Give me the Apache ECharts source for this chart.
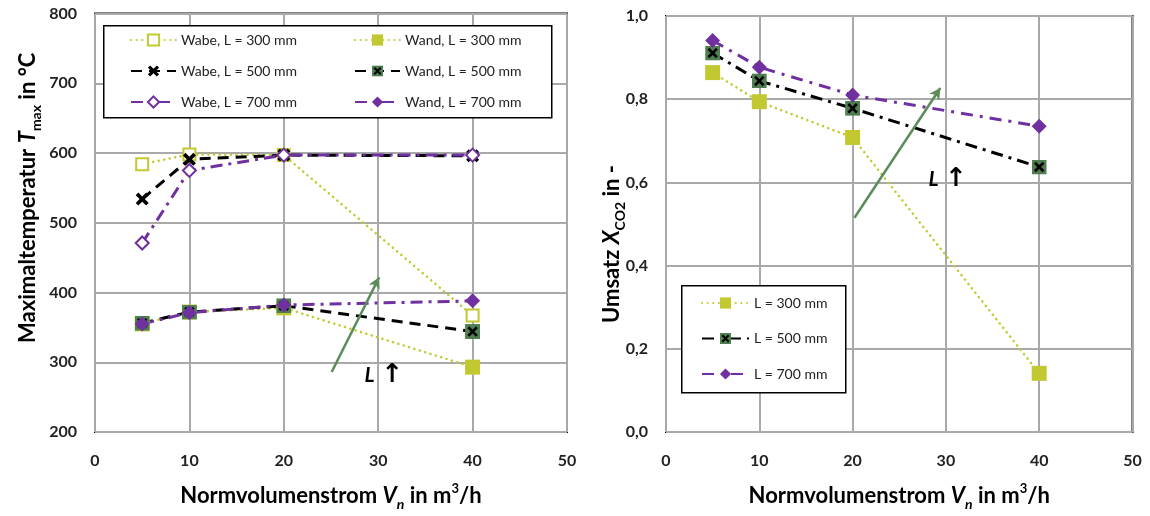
<!DOCTYPE html>
<html><head><meta charset="utf-8">
<script src="https://cdn.jsdelivr.net/npm/echarts@6/dist/echarts.min.js"></script>
<style>html,body{margin:0;padding:0;background:#fff}#c{width:1150px;height:516px}</style>
</head><body><div id="c"></div>
<script>
// ---- data ----
const xTicks = [0, 10, 20, 30, 40, 50];
const volumenstrom = [5, 10, 20, 40];
const wabe300 = [584, 598, 597, 367];
const wabe500 = [534, 591, 597, 596];
const wabe700 = [471, 575, 597, 597];
const wand300 = [355, 372, 378, 293];
const wand500 = [356, 372, 381, 344];
const wand700 = [355, 371, 382, 388];
const umsatz300 = [0.864, 0.794, 0.708, 0.141];
const umsatz500 = [0.911, 0.844, 0.778, 0.637];
const umsatz700 = [0.941, 0.877, 0.810, 0.735];
const leftNames = ['Wabe, L = 300 mm', 'Wabe, L = 500 mm', 'Wabe, L = 700 mm', 'Wand, L = 300 mm', 'Wand, L = 500 mm', 'Wand, L = 700 mm'];
const rightNames = ['L = 300 mm', 'L = 500 mm', 'L = 700 mm'];
const arrowLeft = [[25.07, 286], [30.1, 421.7]];
const arrowRight = [[20.2, 0.515], [29.4, 0.827]];
const labelLeft = [30.6, 281];
const labelRight = [30.2, 0.608];

// ---- styles ----
const YG = '#c2c930', PUR = '#7030a0', GRN = '#5b8c5a', MGRN = '#4f7f50';
const FONT = 'Lato';
const svgWand = "<svg xmlns='http://www.w3.org/2000/svg' width='28' height='28' viewBox='0 0 28 28'><rect width='28' height='28' fill='" + MGRN + "'/><path d='M6,6L22,22M22,6L6,22' stroke='#000' stroke-width='5'/></svg>";
const symWand = 'image://data:image/svg+xml;charset=utf-8,' + encodeURIComponent(svgWand);
const symX = 'path://M2,0L5,3L8,0L10,2L7,5L10,8L8,10L5,7L2,10L0,8L3,5L0,2Z';
const pairs = (ys) => volumenstrom.map((x, i) => [x, ys[i]]);

const dotted = { color: YG, width: 2.5, type: [0.1, 5.5], cap: 'round' };
const dashed = { color: '#000', width: 3, type: [11, 7] };
const dashdot = { color: PUR, width: 3, type: [12, 6, 3, 6] };

function ser(name, ys, idx, symbol, size, color, line, extra) {
  return Object.assign({
    name, type: 'line', xAxisIndex: idx, yAxisIndex: idx, data: pairs(ys),
    symbol, symbolSize: size, showSymbol: true,
    itemStyle: { color, borderWidth: symbol.indexOf('empty') === 0 ? 2.5 : 0 },
    lineStyle: line, emphasis: { disabled: true }, z: 2
  }, extra || {});
}

const arrowStyle = { color: GRN, width: 2.5, type: 'solid' };
function arrowML(a) {
  return { silent: true, symbol: ['none', 'arrow'], symbolSize: [9, 11], lineStyle: arrowStyle,
    label: { show: false }, data: [[{ coord: a[0] }, { coord: a[1] }]], animation: false };
}
function labelMP(p) {
  return { silent: true, symbol: 'rect', symbolSize: 1, itemStyle: { color: 'rgba(0,0,0,0)' },
    label: { show: true, position: 'inside', formatter: '{l|L}  {a|↑}',
      rich: { l: { fontFamily: FONT, fontStyle: 'italic', fontWeight: 'bold', fontSize: 21, color: '#000' },
              a: { fontFamily: 'DejaVu Sans', fontWeight: 'bold', fontSize: 26, color: '#000' } } },
    data: [{ coord: p }], animation: false };
}

const axisLbl = { fontFamily: FONT, fontWeight: 'bold', fontSize: 16, color: '#222' };
const NF = 22;
const nameRich = {
  b: { fontFamily: FONT, fontWeight: 'bold', fontSize: NF, color: '#000' },
  i: { fontFamily: FONT, fontWeight: 'bold', fontStyle: 'italic', fontSize: NF, color: '#000' },
  s: { fontFamily: FONT, fontWeight: 'bold', fontSize: 14, color: '#000', verticalAlign: 'bottom', padding: [0, 0, -4, 0] },
  si: { fontFamily: FONT, fontWeight: 'bold', fontStyle: 'italic', fontSize: 14, color: '#000', verticalAlign: 'bottom', padding: [0, 0, -4, 0] },
  su: { fontFamily: FONT, fontWeight: 'bold', fontSize: 13, color: '#000', verticalAlign: 'top', padding: [-3, 0, 0, 0] }
};
const split = { show: true, lineStyle: { color: '#a9a9a9', width: 2 } };

function xAx(idx) {
  return { type: 'value', gridIndex: idx, min: 0, max: 50, interval: 10,
    axisLine: { show: false }, axisTick: { show: false }, splitLine: split,
    axisLabel: Object.assign({ margin: 21 }, axisLbl),
    name: '{b|Normvolumenstrom }{i|V}{si|n}{b| in m}{su|3}{b|/h}', nameLocation: 'middle', nameGap: 53,
    nameTextStyle: { rich: nameRich } };
}

const option = {
  animation: false,
  backgroundColor: '#fff',
  grid: [
    { left: 95, right: 583, top: 13.5, bottom: 82.5, show: true, borderColor: '#000', borderWidth: 2, backgroundColor: 'transparent' },
    { left: 666, right: 17.5, top: 16, bottom: 82.5, show: true, borderColor: '#000', borderWidth: 2, backgroundColor: 'transparent' }
  ],
  xAxis: [xAx(0), xAx(1)],
  yAxis: [
    { type: 'value', gridIndex: 0, min: 200, max: 800, interval: 100,
      axisLine: { show: false }, axisTick: { show: false }, splitLine: split,
      axisLabel: Object.assign({ margin: 18 }, axisLbl),
      name: '{b|Maximaltemperatur }{i|T}{s|max}{b| in °C}', nameLocation: 'middle', nameGap: 56,
      nameTextStyle: { rich: nameRich, padding: [0, 0, 0, 50] } },
    { type: 'value', gridIndex: 1, min: 0, max: 1, interval: 0.2,
      axisLine: { show: false }, axisTick: { show: false }, splitLine: split,
      axisLabel: Object.assign({ margin: 18, formatter: v => v.toFixed(1).replace('.', ',') }, axisLbl),
      name: '{b|Umsatz }{i|X}{s|CO2}{b| in -}', nameLocation: 'middle', nameGap: 43, nameMoveOverlap: false,
      nameTextStyle: { rich: nameRich, padding: [0, 40, 0, 0] } }
  ],
  legend: [
    { data: leftNames.slice(0, 3), orient: 'vertical', left: 130, top: 33, itemWidth: 45, itemHeight: 14, itemGap: 17,
      textStyle: { fontFamily: FONT, fontSize: 14, color: '#222' }, selectedMode: false, padding: 0 },
    { data: leftNames.slice(3), orient: 'vertical', left: 354, top: 33, itemWidth: 45, itemHeight: 14, itemGap: 17,
      textStyle: { fontFamily: FONT, fontSize: 14, color: '#222' }, selectedMode: false, padding: 0 },
    { data: rightNames, orient: 'vertical', left: 701, top: 296, itemWidth: 47, itemHeight: 14, itemGap: 21.5,
      textStyle: { fontFamily: FONT, fontSize: 14, color: '#222' }, selectedMode: false, padding: 0 }
  ],
  graphic: [
    { type: 'rect', left: 103, top: 25, shape: { width: 448, height: 92 }, style: { fill: '#fff', stroke: '#000', lineWidth: 1.5 }, z: 3, silent: true },
    { type: 'rect', left: 681, top: 285, shape: { width: 164, height: 107 }, style: { fill: '#fff', stroke: '#000', lineWidth: 1.5 }, z: 3, silent: true }
  ],
  series: [
    ser(leftNames[0], wabe300, 0, 'emptyRect', 12, YG, dotted),
    ser(leftNames[1], wabe500, 0, symX, 13, '#000', dashed),
    ser(leftNames[2], wabe700, 0, 'emptyDiamond', 13, PUR, dashdot),
    ser(leftNames[3], wand300, 0, 'rect', 15, YG, dotted),
    ser(leftNames[4], wand500, 0, symWand, 15, '#000', dashed),
    ser(leftNames[5], wand700, 0, 'diamond', 15, PUR, dashdot, { markLine: arrowML(arrowLeft), markPoint: labelMP(labelLeft) }),
    ser(rightNames[0], umsatz300, 1, 'rect', 15, YG, dotted),
    ser(rightNames[1], umsatz500, 1, symWand, 15, '#000', { color: '#000', width: 3, type: [12, 6, 3, 6] }),
    ser(rightNames[2], umsatz700, 1, 'diamond', 15, PUR, { color: PUR, width: 3, type: [12, 7, 3, 7] },
      { markLine: arrowML(arrowRight), markPoint: labelMP(labelRight) })
  ]
};
const chart = echarts.init(document.getElementById('c'), null, { renderer: 'canvas' });
chart.setOption(option);
</script></body></html>
